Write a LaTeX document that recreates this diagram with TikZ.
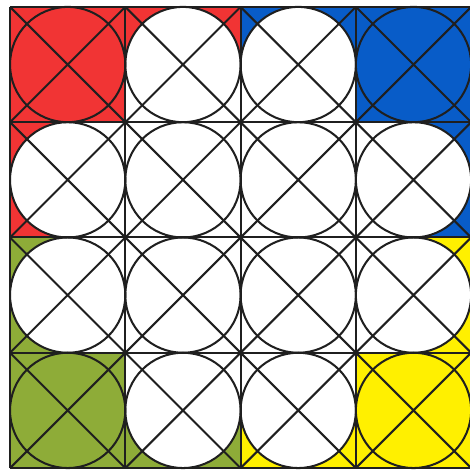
\documentclass[tikz,border=0pt]{standalone}
\usepackage{xcolor}
\usepackage{tikz}

\definecolor{tilered}{RGB}{241,52,52}
\definecolor{tileblue}{RGB}{8,92,200}
\definecolor{tilegreen}{RGB}{142,172,56}
\definecolor{tileyellow}{RGB}{255,240,0}

\begin{document}
\begin{tikzpicture}[
    x=1cm, y=1cm,
    gridline/.style={draw=black!88, line width=0.5pt},
    blank/.style={fill=white}
]
\useasboundingbox (-0.087,-0.017) rectangle (3.985,4.06);

% Coloured corner quadrants: corner cell filled, outer corners of its neighbours.
\foreach \col/\cx/\cy/\dx/\dy in {tilered/0.5/3.5/1/-1, tileblue/3.5/3.5/-1/-1,
                                  tilegreen/0.5/0.5/1/1, tileyellow/3.5/0.5/-1/1} {
    \fill[\col] ({\cx-0.5*\dx},{\cy-0.5*\dy}) rectangle ({\cx+1.5*\dx},{\cy+1.5*\dy});
    \fill[blank] ({\cx+\dx-0.5},{\cy+\dy-0.5}) rectangle ({\cx+\dx+0.5},{\cy+\dy+0.5});
    \fill[blank] ({\cx+\dx},{\cy}) circle (0.5);
    \fill[blank] ({\cx+\dx-0.5},{\cy}) rectangle ({\cx+\dx+0.5},{\cy+0.5*\dy});
    \fill[blank] ({\cx},{\cy+\dy}) circle (0.5);
    \fill[blank] ({\cx},{\cy+\dy-0.5}) rectangle ({\cx+0.5*\dx},{\cy+\dy+0.5});
}

% Grid, inscribed circles and cell diagonals.
\draw[gridline] (0,0) grid (4,4);
\foreach \i in {0,...,3} {
    \foreach \j in {0,...,3} {
        \draw[gridline] (\i+0.5,\j+0.5) circle (0.5);
        \draw[gridline] (\i,\j) -- ++(1,1) (\i+1,\j) -- ++(-1,1);
    }
}
\end{tikzpicture}
\end{document}
